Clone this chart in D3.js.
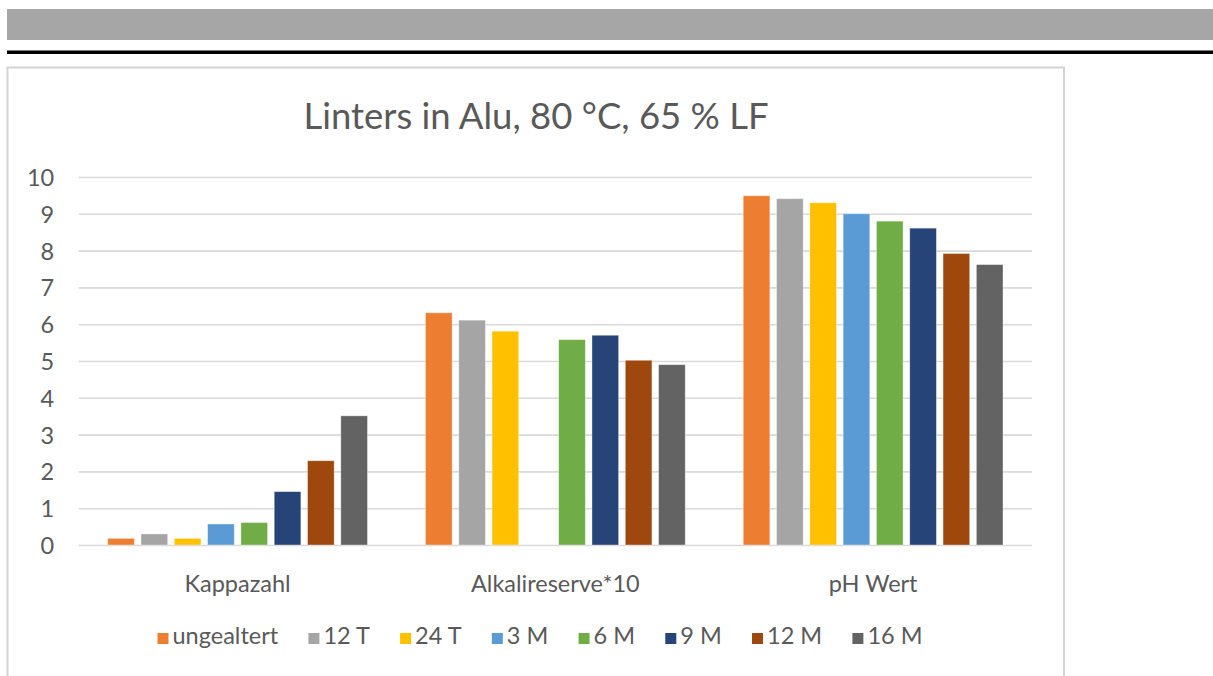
<!DOCTYPE html>
<html>
<head>
<meta charset="utf-8">
<script src="https://cdn.jsdelivr.net/npm/d3@7"></script>
<style>
  html, body { margin: 0; padding: 0; background: #fff; }
  svg { display: block; }
  text { font-family: Lato, "Open Sans", sans-serif; fill: #595959; }
</style>
</head>
<body>
<svg id="chart" width="1213" height="676"></svg>
<script>
// ---- data ----
const categories = ["Kappazahl", "Alkalireserve*10", "pH Wert"];
const seriesNames = ["ungealtert", "12 T", "24 T", "3 M", "6 M", "9 M", "12 M", "16 M"];
const kappazahl     = [0.18, 0.30, 0.18, 0.57, 0.61, 1.45, 2.29, 3.51];
const alkalireserve = [6.31, 6.11, 5.81, null, 5.58, 5.70, 5.02, 4.90];
const phWert        = [9.49, 9.41, 9.30, 9.00, 8.80, 8.61, 7.92, 7.62];
const yTicks = [0, 1, 2, 3, 4, 5, 6, 7, 8, 9, 10];
const seriesColors = ["#ED7D31", "#A5A5A5", "#FFC000", "#5B9BD5", "#70AD47", "#264478", "#9E480E", "#636363"];
const titleText = "Linters in Alu, 80 °C, 65 % LF";

const valuesByCategory = [kappazahl, alkalireserve, phWert];

const svg = d3.select("#chart");
const labelSize = 23.5;

// ---- page decoration ----
svg.append("rect").attr("x", 7).attr("y", 9).attr("width", 1206).attr("height", 31).attr("fill", "#a6a6a6");
svg.append("rect").attr("x", 7).attr("y", 50.5).attr("width", 1206).attr("height", 3.5).attr("fill", "#000");
svg.append("rect").attr("x", 7.5).attr("y", 67.5).attr("width", 1056.5).attr("height", 640)
   .attr("fill", "#fff").attr("stroke", "#d4d4d4").attr("stroke-width", 2);

// ---- scales ----
const plotLeft = 78.7, plotRight = 1032, plotTop = 177, plotBottom = 545;
const x0 = d3.scaleBand().domain(categories).range([plotLeft, plotRight]).padding(0);
const outerGap = 29;
const x1 = d3.scaleBand().domain(seriesNames)
  .range([outerGap, x0.bandwidth() - outerGap]).paddingInner(0.2).paddingOuter(0);
const y = d3.scaleLinear().domain([0, 10]).range([plotBottom, plotTop]);
const color = d3.scaleOrdinal().domain(seriesNames).range(seriesColors);

// ---- gridlines + y axis ----
const yAxis = d3.axisLeft(y).tickValues(yTicks).tickFormat(d3.format("d"))
  .tickSizeInner(-(plotRight - plotLeft)).tickSizeOuter(0).tickPadding(24.5);
const gy = svg.append("g").attr("transform", `translate(${plotLeft},0)`).call(yAxis);
gy.select(".domain").remove();
gy.selectAll(".tick line").attr("stroke", "#d9d9d9").attr("stroke-width", 1.6);
gy.selectAll(".tick text").attr("font-size", labelSize).attr("fill", "#595959")
  .style("font-family", "Lato, sans-serif").attr("dy", "0.36em");

// ---- bars ----
const groups = svg.append("g").selectAll("g").data(categories).join("g")
  .attr("transform", d => `translate(${x0(d)},0)`);
groups.selectAll("rect")
  .data((c, ci) => seriesNames.map((s, si) => ({ s, v: valuesByCategory[ci][si] })).filter(d => d.v != null))
  .join("rect")
  .attr("x", d => x1(d.s))
  .attr("width", x1.bandwidth())
  .attr("y", d => y(d.v))
  .attr("height", d => y(0) - y(d.v))
  .attr("fill", d => color(d.s))
  .attr("stroke", "#ffffff").attr("stroke-opacity", 0.45).attr("stroke-width", 0.8);

// ---- x axis labels ----
const xAxis = d3.axisBottom(x0).tickSize(0).tickPadding(0);
const gx = svg.append("g").attr("transform", `translate(0,${plotBottom})`).call(xAxis);
gx.select(".domain").remove();
gx.selectAll(".tick text").attr("font-size", labelSize).attr("fill", "#595959")
  .style("font-family", "Lato, sans-serif").attr("y", 46.5).attr("dy", 0);

// ---- title ----
svg.append("text").attr("x", 536).attr("y", 128.5).attr("text-anchor", "middle")
  .attr("font-size", 36.5).attr("fill", "#595959").text(titleText);

// ---- legend ----
const legend = svg.append("g");
const sq = 11, sqGap = 4, legendWidth = 765;
const items = legend.selectAll("g").data(seriesNames).join("g");
items.append("rect").attr("width", sq).attr("height", sq).attr("y", -sq + 0.5).attr("fill", d => color(d));
items.append("text").attr("x", sq + sqGap).attr("y", 0).attr("font-size", labelSize).attr("fill", "#595959").text(d => d);
const widths = [];
items.each(function () {
  widths.push(sq + sqGap + d3.select(this).select("text").node().getComputedTextLength());
});
const itemGap = (legendWidth - d3.sum(widths)) / (seriesNames.length - 1);
let cx = 0;
items.each(function (d, i) {
  d3.select(this).attr("transform", `translate(${cx},0)`);
  cx += widths[i] + itemGap;
});
legend.attr("transform", `translate(${540 - legendWidth / 2},643.5)`);
</script>
</body>
</html>
